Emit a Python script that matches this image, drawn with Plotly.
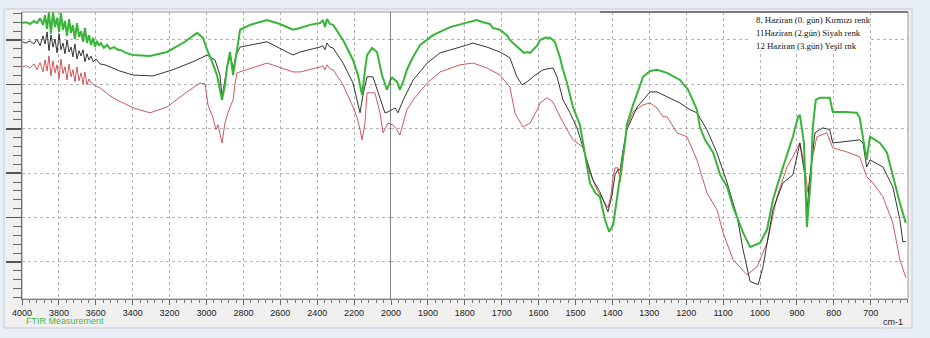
import plotly.graph_objects as go

# ---------------- data (wavenumber cm-1, transmittance a.u.) ----------------
green_wn = [4000, 3978, 3957, 3935, 3919, 3902, 3886, 3875, 3864, 3854, 3843, 3832, 3821, 3810, 3799,
            3789, 3778, 3767, 3756, 3745, 3734, 3724, 3713, 3702, 3691, 3680, 3669, 3659, 3648, 3637,
            3626, 3615, 3604, 3594, 3583, 3572, 3556, 3539, 3523, 3501, 3480, 3458, 3436, 3398, 3306,
            3214, 3117, 3051, 3019, 2997, 2970, 2943, 2916, 2900, 2889, 2873, 2856, 2846, 2835, 2818,
            2764, 2672, 2602, 2531, 2493, 2439, 2385, 2369, 2358, 2347, 2331, 2314, 2260, 2206, 2179,
            2157, 2141, 2130, 2103, 2076, 2049, 2022, 1997, 1984, 1976, 1967, 1957, 1940, 1921, 1886,
            1840, 1800, 1767, 1751, 1732, 1724, 1705, 1686, 1678, 1664, 1650, 1640, 1631, 1623, 1615,
            1604, 1596, 1583, 1569, 1561, 1556, 1542, 1534, 1523, 1507, 1488, 1480, 1461, 1447, 1434,
            1420, 1409, 1398, 1388, 1379, 1366, 1361, 1344, 1317, 1298, 1279, 1252, 1217, 1195, 1171,
            1163, 1149, 1127, 1108, 1089, 1073, 1046, 1027, 1000, 981, 965, 940, 911, 897, 892,
            881, 873, 862, 857, 849, 838, 811, 803, 770, 738, 730, 721, 711, 702, 689,
            675, 656, 640, 621, 605]
green_t = [63.8, 64.0, 63.6, 64.3, 63.8, 64.9, 63.4, 65.6, 62.5, 66.3, 61.4, 66.3, 62.9, 65.0, 61.8,
           66.1, 62.3, 64.3, 60.9, 64.7, 61.6, 63.4, 60.2, 63.8, 60.7, 62.0, 59.6, 62.7, 59.3, 61.1,
           58.9, 60.5, 58.4, 59.8, 58.7, 59.3, 58.2, 58.9, 58.0, 58.4, 57.8, 57.6, 57.1, 56.6, 56.4,
           57.3, 59.6, 61.6, 60.5, 57.8, 55.1, 52.1, 46.5, 49.9, 53.7, 57.3, 52.1, 55.1, 58.2, 62.3,
           63.4, 64.5, 63.6, 62.3, 62.7, 63.4, 63.8, 64.5, 62.9, 64.7, 63.6, 63.4, 60.0, 55.5, 52.1,
           47.6, 53.3, 56.6, 58.2, 57.3, 52.1, 48.8, 51.5, 50.6, 48.8, 50.6, 53.3, 56.2, 58.9, 61.1,
           62.9, 63.8, 64.5, 64.0, 63.6, 62.7, 62.3, 61.1, 60.0, 58.9, 57.8, 57.1, 57.3, 57.1, 57.8,
           58.7, 60.0, 60.5, 60.5, 60.0, 59.6, 56.0, 53.3, 50.3, 44.9, 40.9, 36.8, 27.8, 25.6, 24.7,
           19.5, 16.8, 18.4, 24.0, 29.2, 36.8, 40.9, 45.4, 51.7, 53.0, 53.3, 52.6, 51.0, 48.8, 44.3,
           40.4, 37.5, 34.6, 29.6, 26.9, 22.4, 16.6, 13.4, 14.3, 17.3, 24.0, 30.8, 38.2, 42.7, 43.1,
           36.8, 17.9, 29.2, 40.4, 46.5, 47.0, 47.0, 43.8, 43.8, 43.6, 42.5, 38.2, 33.0, 38.2, 37.5,
           36.8, 34.6, 29.2, 23.3, 18.8]

black_wn = [4000, 3978, 3957, 3935, 3919, 3902, 3886, 3875, 3864, 3854, 3843, 3832, 3821, 3810, 3799,
            3789, 3778, 3767, 3756, 3745, 3734, 3724, 3713, 3702, 3691, 3680, 3669, 3659, 3648, 3637,
            3626, 3615, 3599, 3577, 3550, 3523, 3469, 3398, 3290, 3182, 3073, 2997, 2954, 2927, 2916,
            2900, 2884, 2867, 2856, 2840, 2818, 2672, 2531, 2493, 2439, 2385, 2369, 2358, 2347, 2331,
            2314, 2260, 2206, 2168, 2152, 2130, 2098, 2060, 2033, 2016, 1997, 1989, 1981, 1967, 1940,
            1902, 1867, 1813, 1778, 1740, 1705, 1678, 1659, 1645, 1631, 1615, 1588, 1561, 1550, 1534,
            1515, 1496, 1474, 1453, 1434, 1420, 1412, 1401, 1393, 1385, 1379, 1371, 1361, 1333, 1298,
            1279, 1252, 1217, 1190, 1171, 1144, 1117, 1089, 1062, 1046, 1027, 1005, 992, 965, 938,
            911, 892, 878, 873, 865, 851, 830, 811, 803, 765, 730, 721, 711, 702, 667,
            640, 621, 613, 605]
black_t = [59.6, 59.3, 59.8, 59.1, 60.2, 58.7, 60.9, 59.1, 61.8, 57.6, 61.1, 58.4, 60.2, 57.1, 61.4,
           57.8, 59.3, 56.9, 60.0, 57.3, 58.4, 56.2, 59.1, 55.7, 57.6, 56.4, 57.8, 55.1, 56.9, 55.5,
           56.4, 55.1, 55.7, 54.6, 54.4, 53.9, 53.0, 52.1, 51.9, 53.3, 55.1, 56.6, 55.5, 52.1, 47.2,
           51.0, 55.1, 56.0, 53.3, 56.6, 58.4, 59.6, 56.6, 57.3, 57.8, 58.4, 58.7, 57.8, 59.3, 58.4,
           58.2, 54.8, 50.3, 43.6, 47.6, 51.7, 51.7, 47.2, 43.6, 43.8, 44.3, 44.7, 43.6, 46.5, 51.0,
           54.8, 57.1, 58.4, 59.3, 58.4, 57.3, 56.0, 51.7, 49.9, 50.6, 51.7, 53.3, 53.7, 51.7, 46.5,
           43.6, 40.2, 34.1, 28.5, 25.8, 22.9, 21.3, 25.1, 29.6, 30.8, 30.8, 35.3, 39.8, 44.9, 48.3,
           48.3, 47.2, 45.8, 44.3, 43.6, 39.8, 34.6, 27.8, 20.2, 12.8, 5.6, 4.9, 8.9, 21.8, 27.8,
           29.6, 36.8, 29.2, 21.1, 29.2, 39.1, 40.2, 39.8, 36.8, 37.1, 37.5, 36.8, 31.4, 33.0, 31.4,
           26.9, 19.5, 14.6, 14.6]

red_wn = [4000, 3978, 3957, 3935, 3919, 3902, 3886, 3875, 3864, 3854, 3843, 3832, 3821, 3810, 3799,
          3789, 3778, 3767, 3756, 3745, 3734, 3724, 3713, 3702, 3691, 3680, 3669, 3659, 3648, 3637,
          3626, 3604, 3577, 3523, 3485, 3398, 3306, 3214, 3106, 3035, 3008, 2992, 2965, 2949, 2938,
          2916, 2900, 2884, 2867, 2856, 2846, 2835, 2672, 2531, 2493, 2439, 2385, 2369, 2358, 2347,
          2331, 2314, 2260, 2206, 2184, 2168, 2157, 2141, 2130, 2087, 2060, 2043, 2016, 1995, 1984,
          1976, 1967, 1957, 1940, 1902, 1867, 1813, 1778, 1740, 1705, 1678, 1664, 1659, 1642, 1623,
          1604, 1596, 1577, 1561, 1547, 1542, 1523, 1507, 1480, 1461, 1442, 1426, 1412, 1404, 1398,
          1393, 1385, 1379, 1374, 1361, 1344, 1317, 1298, 1279, 1263, 1252, 1225, 1198, 1171, 1144,
          1117, 1100, 1073, 1035, 1008, 981, 954, 927, 911, 892, 878, 870, 859, 846, 819,
          803, 765, 730, 711, 694, 667, 640, 621, 605]
red_t = [53.9, 54.2, 53.7, 54.6, 53.3, 54.9, 52.8, 55.5, 53.0, 56.4, 51.9, 55.3, 52.6, 54.4, 51.2,
         55.7, 52.4, 54.0, 51.0, 54.6, 51.7, 53.3, 50.6, 53.9, 50.8, 52.6, 50.1, 52.8, 49.9, 51.2,
         50.4, 49.7, 49.2, 47.4, 46.5, 44.7, 43.6, 44.9, 48.3, 50.3, 50.1, 45.4, 42.5, 39.8, 40.9,
         36.8, 41.3, 43.6, 45.4, 46.5, 49.9, 52.6, 54.8, 52.8, 52.8, 53.3, 53.9, 54.2, 53.3, 54.4,
         53.5, 53.3, 49.9, 44.9, 42.5, 39.8, 37.5, 41.3, 48.1, 48.1, 43.6, 39.1, 41.3, 40.9, 39.8,
         38.6, 41.3, 44.3, 46.5, 50.3, 52.8, 54.4, 54.8, 53.7, 52.1, 49.4, 43.6, 42.7, 40.4, 41.3,
         44.3, 45.8, 47.0, 46.0, 43.6, 42.7, 39.8, 37.5, 35.9, 30.1, 26.3, 24.0, 22.2, 25.1, 29.2,
         31.2, 31.2, 28.1, 30.8, 40.4, 43.8, 45.4, 45.8, 44.7, 42.7, 42.7, 39.1, 38.2, 33.0, 25.6,
         21.8, 16.6, 10.5, 7.1, 8.9, 14.3, 24.7, 31.4, 33.7, 36.8, 30.8, 25.6, 33.0, 38.2, 39.1,
         35.7, 34.8, 33.7, 29.2, 27.8, 24.7, 18.8, 10.5, 6.5]

ticks_high = [4000, 3800, 3600, 3400, 3200, 3000, 2800, 2600, 2400, 2200, 2000]
ticks_low = [1900, 1800, 1700, 1600, 1500, 1400, 1300, 1200, 1100, 1000, 900, 800, 700]
y_major = [10, 20, 30, 40, 50, 60]

legend_lines = ["8, Haziran (0. gün) Kırmızı renk",
                "11Haziran (2.gün) Siyah renk",
                "12 Haziran (3.gün) Yeşil rnk"]

SPLIT = 2000
X_HIGH = [4000, 2000]
X_LOW = [2000, 599]
Y_RANGE = [1.66, 66.3]

# ---------------- geometry ----------------
W, H = 930, 338
ML, MR, MT, MB = 22, 22, 12, 39
PW, PH = W - ML - MR, H - MT - MB
d1 = (X_HIGH[0] - X_HIGH[1]) / 200 / ((X_HIGH[0] - X_HIGH[1]) / 200 + (X_LOW[0] - X_LOW[1]) / 100)


def px_x(p):
    return (p - ML) / PW


def px_y(p):
    return (H - MB - p) / PH


def split(wn, t):
    i = next(k for k, w in enumerate(wn) if w < SPLIT)
    return (wn[:i + 1], t[:i + 1]), (wn[i - 1:], t[i - 1:])


fig = go.Figure()
series = [
    ("8 Haziran", red_wn, red_t, "#c9464a", 0.9),
    ("11 Haziran", black_wn, black_t, "#1e1e1e", 0.9),
    ("12 Haziran", green_wn, green_t, "#38b538", 2.0),
]
for name, wn, t, col, lw in series:
    (a_x, a_y), (b_x, b_y) = split(wn, t)
    fig.add_trace(go.Scatter(x=a_x, y=a_y, mode="lines", name=name, xaxis="x", yaxis="y",
                             line=dict(color=col, width=lw), showlegend=False, hoverinfo="skip"))
    fig.add_trace(go.Scatter(x=b_x, y=b_y, mode="lines", name=name, xaxis="x2", yaxis="y2",
                             line=dict(color=col, width=lw), showlegend=False, hoverinfo="skip"))

tickfont = dict(family="Liberation Sans, Arial, sans-serif", size=9, color="#222")
grid = dict(showgrid=True, gridcolor="#b4b4b4", gridwidth=1, griddash="dot")

fig.update_layout(
    width=W, height=H,
    margin=dict(l=ML, r=MR, t=MT, b=MB, pad=0, autoexpand=False),
    paper_bgcolor="#e7eef7",
    plot_bgcolor="rgba(0,0,0,0)",
    showlegend=False,
    xaxis=dict(domain=[0, d1], range=X_HIGH, tickmode="array", tickvals=ticks_high,
               ticktext=[str(v) for v in ticks_high], ticks="outside", ticklen=5, tickwidth=1,
               tickcolor="#666", tickfont=tickfont, showline=True, linecolor="#666", linewidth=1,
               zeroline=False, anchor="y", automargin=False,
               minor=dict(tick0=4000, dtick=40, ticks="outside", ticklen=3, tickcolor="#777",
                          showgrid=False),
               **grid),
    xaxis2=dict(domain=[d1, 1], range=X_LOW, tickmode="array", tickvals=ticks_low,
                ticktext=[str(v) for v in ticks_low], ticks="outside", ticklen=5, tickwidth=1,
                tickcolor="#666", tickfont=tickfont, showline=True, linecolor="#666", linewidth=1,
                zeroline=False, anchor="y2", automargin=False,
                minor=dict(tick0=2000, dtick=20, ticks="outside", ticklen=3, tickcolor="#777",
                           showgrid=False),
                **grid),
    yaxis=dict(range=Y_RANGE, tickmode="array", tickvals=y_major, showticklabels=False,
               ticks="outside", ticklen=15, tickwidth=1.5, tickcolor="#555",
               showline=True, linecolor="#444", linewidth=1, zeroline=False, anchor="x",
               automargin=False,
               minor=dict(tick0=0, dtick=2, ticks="outside", ticklen=8, tickwidth=1,
                          tickcolor="#666", showgrid=False),
               **grid),
    yaxis2=dict(range=Y_RANGE, matches="y", tickmode="array", tickvals=y_major,
                showticklabels=False, ticks="", showline=False, zeroline=False, anchor="x2",
                automargin=False, **grid),
)

shapes = [
    # grey window panel
    dict(type="rect", xref="paper", yref="paper", x0=px_x(4), x1=px_x(912), y0=px_y(328),
         y1=px_y(9), fillcolor="#f0f0f0", line=dict(color="#c9ccd1", width=1), layer="below"),
    # white plotting area
    dict(type="rect", xref="paper", yref="paper", x0=0, x1=1, y0=0, y1=1,
         fillcolor="white", line=dict(width=0), layer="below"),
    # frame
    dict(type="rect", xref="paper", yref="paper", x0=0, x1=1, y0=0, y1=1,
         fillcolor="rgba(0,0,0,0)", line=dict(color="#9a9a9a", width=1), layer="above"),
    dict(type="line", xref="paper", yref="paper", x0=px_x(600), x1=1, y0=1, y1=1,
         line=dict(color="#333", width=1.2), layer="above"),
    # cursor line at 2000 cm-1
    dict(type="line", xref="x", yref="paper", x0=SPLIT, x1=SPLIT, y0=0, y1=1,
         line=dict(color="#333", width=1.2), layer="above"),
    # legend background
    dict(type="rect", xref="paper", yref="paper", x0=px_x(750), x1=px_x(870), y0=px_y(50),
         y1=px_y(13), fillcolor="white", line=dict(width=0), layer="above"),
]
fig.update_layout(shapes=shapes)

annotations = []
for i, txt in enumerate(legend_lines):
    annotations.append(dict(text=txt, xref="paper", yref="paper", x=px_x(754), y=px_y(20 + 13 * i),
                            xanchor="left", yanchor="middle", showarrow=False,
                            font=dict(family="Liberation Serif, Times New Roman, serif", size=8.8,
                                      color="#111")))
annotations.append(dict(text="FTIR Measurement", xref="paper", yref="paper", x=px_x(24), y=px_y(321),
                        xanchor="left", yanchor="middle", showarrow=False,
                        font=dict(family="Liberation Sans, Arial, sans-serif", size=9, color="#4cb54c")))
annotations.append(dict(text="cm-1", xref="paper", yref="paper", x=px_x(905), y=px_y(322),
                        xanchor="right", yanchor="middle", showarrow=False,
                        font=dict(family="Liberation Sans, Arial, sans-serif", size=9, color="#222")))
fig.update_layout(annotations=annotations)

fig.write_html("out.html", config={"displayModeBar": False, "staticPlot": True},
               post_script="document.body.style.margin='0px';document.body.style.overflow='hidden';")
